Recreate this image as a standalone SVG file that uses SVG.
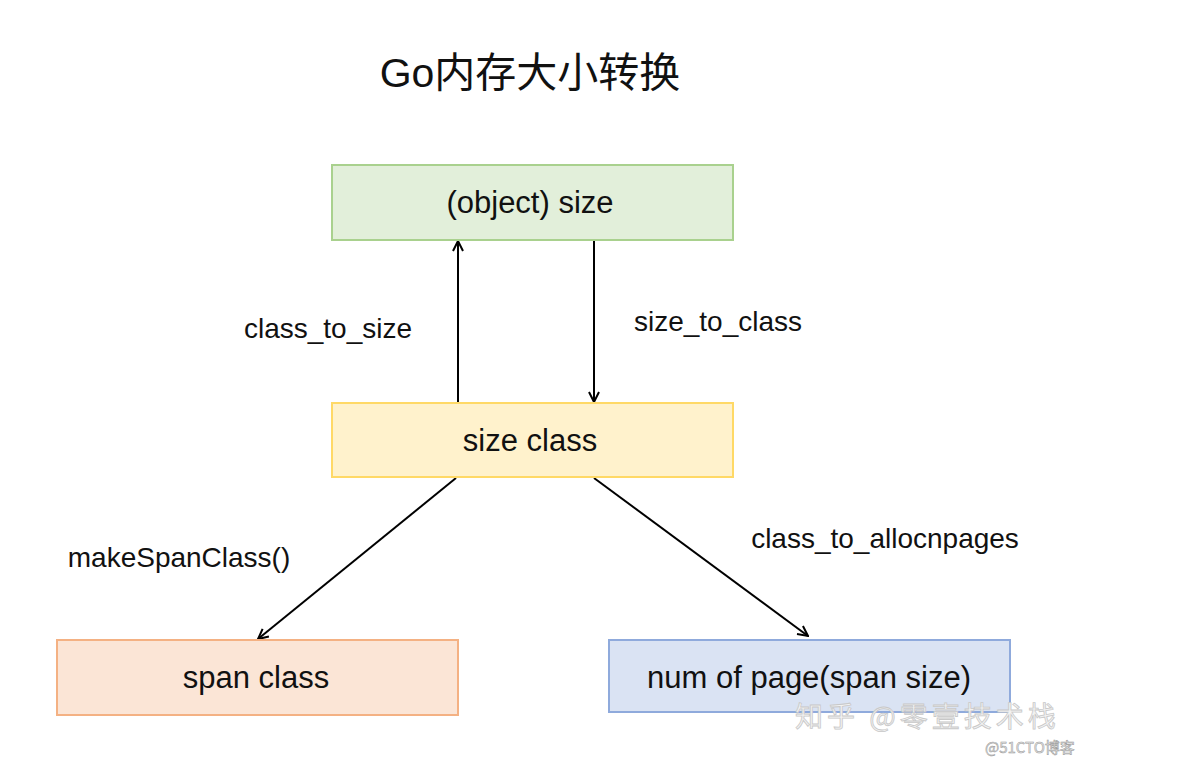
<svg xmlns="http://www.w3.org/2000/svg" width="1196" height="779" viewBox="0 0 1196 779">
<style>
.box{stroke-width:2}
.t{font-family:"Liberation Sans",Arial,sans-serif;fill:#111;text-anchor:middle}
.bt{font-size:31px}
.lt{font-size:28px}
.edge{stroke:#000;stroke-width:2;fill:none;marker-end:url(#arr)}
.wm{font-family:"Noto Sans CJK SC","Liberation Sans",sans-serif;fill:#f2f2f2;stroke:#c8c8c8;stroke-width:0.8}
</style>
<defs>
<marker id="arr" viewBox="0 0 12 12" refX="11" refY="6" markerWidth="12" markerHeight="12" markerUnits="userSpaceOnUse" orient="auto">
<path d="M1,1 L11,6 L1,11" fill="none" stroke="#000" stroke-width="2"/>
</marker>
</defs>
<rect width="1196" height="779" fill="#fff"/>
<text class="t" x="530" y="87" style="font-family:'Liberation Sans','Noto Sans CJK SC',sans-serif;font-size:41px">Go内存大小转换</text>
<g id="connectors">
<line class="edge" x1="458" y1="403" x2="458" y2="241"/>
<line class="edge" x1="594" y1="241" x2="594" y2="402"/>
<line class="edge" x1="456" y1="478" x2="258" y2="639"/>
<line class="edge" x1="594" y1="478" x2="808" y2="636"/>
<text class="t lt" x="328" y="338">class_to_size</text>
<text class="t lt" x="718" y="331">size_to_class</text>
<text class="t lt" x="179" y="567">makeSpanClass()</text>
<text class="t lt" x="885" y="548">class_to_allocnpages</text>
</g>
<g id="object-size">
<rect class="box" x="332" y="165" width="401" height="75" fill="#e2efda" stroke="#a9d18e"/>
<text class="t bt" x="530" y="213">(object) size</text>
</g>
<g id="size-class">
<rect class="box" x="332" y="403" width="401" height="74" fill="#fff2cc" stroke="#ffd966"/>
<text class="t bt" x="530" y="451">size class</text>
</g>
<g id="span-class">
<rect class="box" x="57" y="640" width="401" height="75" fill="#fbe5d6" stroke="#f4b183"/>
<text class="t bt" x="256" y="688">span class</text>
</g>
<g id="num-of-page">
<rect class="box" x="609" y="640" width="401" height="72" fill="#dae3f3" stroke="#8faadc"/>
<text class="t bt" x="809" y="688">num of page(span size)</text>
</g>
<text class="wm" x="795" y="727" font-size="28" letter-spacing="4">知乎 @零壹技术栈</text>
<text class="wm" x="985" y="753" font-size="15" style="fill:#e6e6e6;stroke:#999;stroke-width:0.5">@51CTO博客</text>
</svg>
